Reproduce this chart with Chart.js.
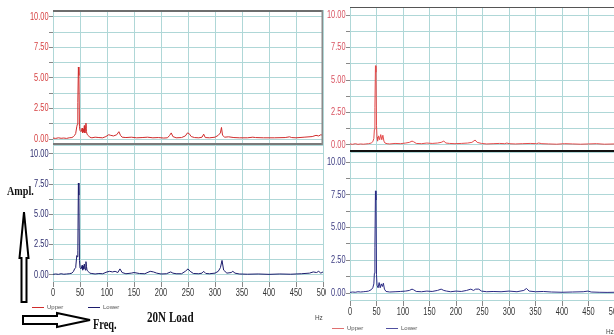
<!DOCTYPE html>
<html>
<head>
<meta charset="utf-8">
<script src="https://cdn.jsdelivr.net/npm/chart.js@4.4.1/dist/chart.umd.min.js"></script>
<style>
  html, body { margin: 0; padding: 0; background: #fff; }
  body { width: 614px; height: 335px; position: relative; overflow: hidden; }
  canvas { position: absolute; }
  .note { position: absolute; font-family: 'Liberation Serif', serif; font-weight: bold; color: #111; white-space: nowrap; transform-origin: left top; }
  .leg { position: absolute; font-family: 'Liberation Sans', sans-serif; font-size: 6px; line-height: 6px; color: #555; white-space: nowrap; }
  .leg i { display: inline-block; width: 12px; height: 1px; vertical-align: middle; margin-right: 3px; }
  .hz { position: absolute; font-family: 'Liberation Sans', sans-serif; font-size: 8px; color: #444; transform: scaleX(0.8); transform-origin: left top; }
</style>
</head>
<body>
<canvas id="leftUpper"></canvas>
<canvas id="leftLower"></canvas>
<canvas id="rightUpper"></canvas>
<canvas id="rightLower"></canvas>

<div class="leg" style="left:32px; top:304px;"><i style="background:#d02c2c"></i>Upper</div>
<div class="leg" style="left:88px; top:304px;"><i style="background:#1c1c6c"></i>Lower</div>
<div class="hz" style="left:315px; top:313px;">Hz</div>
<div class="leg" style="left:332px; top:325px;"><i style="background:#e07070"></i>Upper</div>
<div class="leg" style="left:386px; top:325px;"><i style="background:#5050a0"></i>Lower</div>
<div class="hz" style="left:606px; top:327px;">Hz</div>

<div class="note" style="left:7px; top:183px; font-size:13px; transform:scaleX(0.78);">Ampl.</div>
<div class="note" style="left:93px; top:317px; font-size:14px; transform:scaleX(0.74);">Freq.</div>
<div class="note" style="left:147px; top:309px; font-size:15px; transform:scaleX(0.74);">20N Load</div>

<svg style="position:absolute; left:0; top:0;" width="120" height="335">
  <polygon points="24,212 28.5,258 26.5,258 26.5,302 21.5,302 21.5,258 19.5,258" fill="#fff" stroke="#000" stroke-width="2"/>
  <polygon points="23,316 57,316 57,313 90,320 57,327 57,324 23,324" fill="#fff" stroke="#000" stroke-width="2"/>
</svg>

<script>
'use strict';

// frequencies (Hz) and amplitudes
const leftUpperHz = [0, 5, 10, 15, 20, 25, 30, 35, 38, 40,
  42, 44, 45, 46, 47, 48, 49, 50, 52, 54,
  55, 56, 57, 58, 59, 60, 61, 62, 63, 65,
  68, 72, 78, 85, 92, 98, 103, 107, 112, 118,
  122, 125, 128, 135, 145, 155, 165, 175, 185, 195,
  205, 212, 216, 219, 222, 228, 238, 245, 249, 252,
  256, 262, 270, 276, 279, 282, 290, 300, 306, 310,
  312, 314, 318, 325, 335, 345, 360, 370, 375, 390,
  410, 430, 438, 442, 450, 465, 480, 487, 492, 496,
  500];
const leftUpperAmp = [0.08, 0.05, 0.1, 0.06, 0.08, 0.05, 0.1, 0.12, 0.2, 0.3,
  0.45, 1.0, 1.2, 3.0, 5.9, 5.2, 1.0, 0.7, 0.6, 0.9,
  0.5, 0.8, 0.6, 1.1, 0.5, 0.9, 1.3, 0.6, 0.4, 0.3,
  0.15, 0.1, 0.15, 0.12, 0.1, 0.2, 0.35, 0.3, 0.25, 0.35,
  0.6, 0.3, 0.15, 0.12, 0.15, 0.1, 0.12, 0.15, 0.1, 0.12,
  0.08, 0.1, 0.3, 0.5, 0.2, 0.1, 0.12, 0.25, 0.5, 0.45,
  0.2, 0.12, 0.1, 0.15, 0.4, 0.12, 0.1, 0.15, 0.3, 0.5,
  0.95, 0.3, 0.15, 0.18, 0.12, 0.1, 0.1, 0.15, 0.12, 0.1,
  0.1, 0.12, 0.18, 0.12, 0.1, 0.15, 0.2, 0.3, 0.25, 0.35,
  0.3];

const leftLowerHz = [0, 5, 10, 15, 20, 25, 30, 35, 38, 40,
  42, 44, 45, 46, 47, 48, 49, 50, 52, 54,
  55, 56, 57, 58, 60, 61, 62, 63, 65, 68,
  72, 78, 85, 92, 100, 105, 110, 115, 120, 124,
  128, 135, 145, 150, 160, 170, 180, 186, 192, 200,
  210, 218, 222, 228, 238, 245, 250, 254, 260, 270,
  276, 279, 283, 290, 300, 306, 310, 313, 316, 322,
  330, 333, 337, 345, 360, 380, 400, 420, 440, 460,
  475, 482, 488, 492, 496, 500];
const leftLowerAmp = [0.05, 0.08, 0.05, 0.1, 0.06, 0.08, 0.1, 0.15, 0.3, 0.5,
  0.6, 1.6, 1.5, 2.0, 7.6, 6.6, 1.2, 0.6, 0.5, 0.8,
  0.4, 0.7, 0.5, 0.9, 0.4, 1.1, 0.7, 0.4, 0.3, 0.15,
  0.12, 0.08, 0.12, 0.1, 0.25, 0.3, 0.25, 0.3, 0.2, 0.5,
  0.2, 0.1, 0.15, 0.2, 0.12, 0.1, 0.3, 0.25, 0.15, 0.08,
  0.1, 0.25, 0.15, 0.1, 0.1, 0.3, 0.5, 0.3, 0.12, 0.1,
  0.15, 0.3, 0.12, 0.1, 0.15, 0.3, 0.6, 1.2, 0.4, 0.15,
  0.2, 0.3, 0.15, 0.08, 0.06, 0.08, 0.05, 0.08, 0.06, 0.1,
  0.15, 0.25, 0.2, 0.3, 0.15, 0.25];

const rightUpperHz = [0, 5, 10, 15, 20, 25, 30, 35, 40, 43,
  45, 46, 47, 48, 49, 50, 51, 52, 54, 56,
  58, 60, 62, 64, 66, 70, 75, 85, 95, 105,
  112, 117, 120, 125, 135, 145, 155, 165, 172, 177,
  181, 188, 198, 210, 222, 230, 236, 240, 248, 258,
  270, 282, 292, 296, 300, 312, 325, 340, 352, 356,
  362, 375, 390, 405, 420, 435, 450, 465, 480, 500];
const rightUpperAmp = [0.08, 0.05, 0.1, 0.05, 0.08, 0.06, 0.08, 0.1, 0.15, 0.25,
  0.5, 1.2, 2.9, 6.1, 5.6, 1.5, 0.6, 0.3, 0.7, 0.4,
  0.8, 0.4, 0.75, 0.3, 0.15, 0.1, 0.08, 0.12, 0.1, 0.15,
  0.2, 0.3, 0.25, 0.12, 0.1, 0.15, 0.12, 0.15, 0.2, 0.3,
  0.15, 0.12, 0.1, 0.12, 0.15, 0.2, 0.38, 0.2, 0.12, 0.08,
  0.1, 0.12, 0.1, 0.15, 0.1, 0.08, 0.1, 0.12, 0.1, 0.15,
  0.1, 0.08, 0.06, 0.1, 0.08, 0.06, 0.08, 0.1, 0.06, 0.08];

const rightLowerHz = [0, 5, 10, 15, 20, 25, 30, 35, 40, 43,
  45, 46, 47, 48, 49, 50, 51, 53, 55, 57,
  59, 61, 63, 65, 68, 75, 85, 95, 105, 112,
  117, 120, 125, 135, 145, 155, 165, 172, 177, 182,
  190, 200, 210, 220, 228, 233, 237, 243, 248, 258,
  270, 285, 300, 315, 328, 333, 338, 350, 365, 380,
  400, 420, 440, 449, 455, 470, 485, 500];
const rightLowerAmp = [0.05, 0.08, 0.06, 0.1, 0.08, 0.1, 0.12, 0.15, 0.25, 0.4,
  0.7, 1.5, 3.5, 7.8, 7.1, 1.4, 0.6, 0.4, 0.8, 0.4,
  0.7, 0.5, 0.75, 0.3, 0.12, 0.08, 0.1, 0.12, 0.15, 0.2,
  0.3, 0.25, 0.12, 0.1, 0.15, 0.12, 0.2, 0.3, 0.2, 0.15,
  0.1, 0.15, 0.12, 0.2, 0.3, 0.2, 0.3, 0.3, 0.15, 0.1,
  0.12, 0.1, 0.15, 0.1, 0.2, 0.35, 0.15, 0.1, 0.12, 0.08,
  0.06, 0.08, 0.1, 0.15, 0.08, 0.06, 0.05, 0.06];

const gridColor = '#afd7d7';
const labelFont = "10px 'Liberation Sans', Arial, sans-serif";
const squeeze = 0.74; // the original tick font is a narrow one

// draws the dark frame lines some panels have
const framePlugin = {
  id: 'frame',
  afterDraw(chart, args, opts) {
    const { ctx, chartArea: a } = chart;
    ctx.save();
    (opts.lines || []).forEach(l => {
      ctx.strokeStyle = l.color;
      ctx.lineWidth = l.width;
      ctx.beginPath();
      if (l.side === 'top') { ctx.moveTo(a.left, a.top + l.width / 2); ctx.lineTo(a.right, a.top + l.width / 2); }
      if (l.side === 'bottom') { ctx.moveTo(a.left, a.bottom - l.width / 2); ctx.lineTo(a.right, a.bottom - l.width / 2); }
      if (l.side === 'right') { ctx.moveTo(a.right - l.width / 2, a.top); ctx.lineTo(a.right - l.width / 2, a.bottom); }
      ctx.stroke();
    });
    ctx.restore();
  }
};

// writes the scales' own tick labels, squeezed sideways
const narrowLabels = {
  id: 'narrowLabels',
  afterDraw(chart, args, opts) {
    const ctx = chart.ctx;
    const sx = chart.scales.x, sy = chart.scales.y;
    ctx.save();
    ctx.font = labelFont;
    ctx.fillStyle = opts.yColor;
    ctx.textAlign = 'right';
    ctx.textBaseline = 'middle';
    sy.ticks.forEach(t => {
      if (!t.label) return;
      ctx.save();
      ctx.translate(sy.right - 4.5, sy.getPixelForValue(t.value));
      ctx.scale(squeeze, 1);
      ctx.fillText(t.label, 0, 0);
      ctx.restore();
    });
    if (opts.xLabels) {
      ctx.fillStyle = '#333';
      ctx.textAlign = 'center';
      ctx.textBaseline = 'top';
      sx.ticks.forEach(t => {
        ctx.save();
        ctx.translate(sx.getPixelForValue(t.value), sx.top + 7);
        ctx.scale(squeeze, 1);
        ctx.fillText(t.label, 0, 0);
        ctx.restore();
      });
    }
    ctx.restore();
  }
};

function place(id, left, top, w, h) {
  const c = document.getElementById(id);
  c.style.left = left + 'px';
  c.style.top = top + 'px';
  c.width = w; c.height = h;
  c.style.width = w + 'px'; c.style.height = h + 'px';
  return c;
}

function spectrum(cfg) {
  const canvasElem = place(cfg.id, cfg.left, cfg.top, cfg.w, cfg.h);
  let points = cfg.hz.map((f, i) => ({ x: f, y: cfg.amp[i] }));
  new Chart(canvasElem.getContext('2d'), {
    type: 'line',
    data: {
      datasets: [{
        data: points,
        borderColor: cfg.color,
        borderWidth: 1,
        pointRadius: 0,
        tension: 0,
        fill: false
      }]
    },
    options: {
      responsive: false,
      animation: false,
      layout: { padding: cfg.padding },
      plugins: {
        legend: { display: false },
        tooltip: { enabled: false },
        frame: { lines: cfg.frame },
        narrowLabels: { yColor: cfg.labelColor, xLabels: cfg.xLabels }
      },
      scales: {
        x: {
          type: 'linear',
          min: 0, max: 500,
          afterFit: s => { s.height = cfg.xHeight; },
          ticks: { display: false, stepSize: 50, autoSkip: false },
          grid: { color: gridColor, tickLength: cfg.xLabels ? 6 : 0, tickColor: '#888' },
          border: { color: gridColor }
        },
        y: {
          min: cfg.yMin, max: cfg.yMax,
          afterFit: s => { s.width = cfg.yWidth; },
          ticks: {
            display: false,
            stepSize: 1.25,
            includeBounds: false,
            autoSkip: false,
            callback: v => (Math.abs(v / 2.5 - Math.round(v / 2.5)) < 1e-6 ? v.toFixed(2) : '')
          },
          grid: { color: gridColor, tickLength: 4, tickColor: '#888' },
          border: { color: gridColor }
        }
      }
    },
    plugins: [framePlugin, narrowLabels]
  });
}

spectrum({
  id: 'leftUpper', left: 0, top: 8, w: 326, h: 140,
  hz: leftUpperHz, amp: leftUpperAmp, color: '#d02c2c', labelColor: '#d64040',
  padding: { top: 2, right: 3, left: 0, bottom: 0 }, yWidth: 53, xHeight: 3, xLabels: false,
  yMin: -0.49, yMax: 10.57,
  frame: [{ side: 'top', color: '#6e6e6e', width: 2 }, { side: 'bottom', color: '#7a7a7a', width: 2 }, { side: 'right', color: '#8a8a8a', width: 1.5 }]
});

spectrum({
  id: 'leftLower', left: 0, top: 146, w: 326, h: 189,
  hz: leftLowerHz, amp: leftLowerAmp, color: '#1c1c6c', labelColor: '#2d2d6e',
  padding: { top: 0, right: 3, left: 0, bottom: 34 }, yWidth: 53, xHeight: 20, xLabels: true,
  yMin: -0.5, yMax: 10.66, frame: []
});

spectrum({
  id: 'rightUpper', left: 323, top: 5, w: 295, h: 150,
  hz: rightUpperHz, amp: rightUpperAmp, color: '#e44a4a', labelColor: '#d8505e',
  padding: { top: 2, right: 3, left: 0, bottom: 0 }, yWidth: 27, xHeight: 3, xLabels: false,
  yMin: -0.54, yMax: 10.62,
  frame: [{ side: 'top', color: '#555', width: 1 }, { side: 'bottom', color: '#111', width: 2 }]
});

spectrum({
  id: 'rightLower', left: 323, top: 153, w: 295, h: 182,
  hz: rightLowerHz, amp: rightLowerAmp, color: '#2a2a84', labelColor: '#3a3a80',
  padding: { top: 0, right: 3, left: 0, bottom: 15 }, yWidth: 27, xHeight: 20, xLabels: true,
  yMin: -0.53, yMax: 10.69, frame: []
});
</script>
</body>
</html>
